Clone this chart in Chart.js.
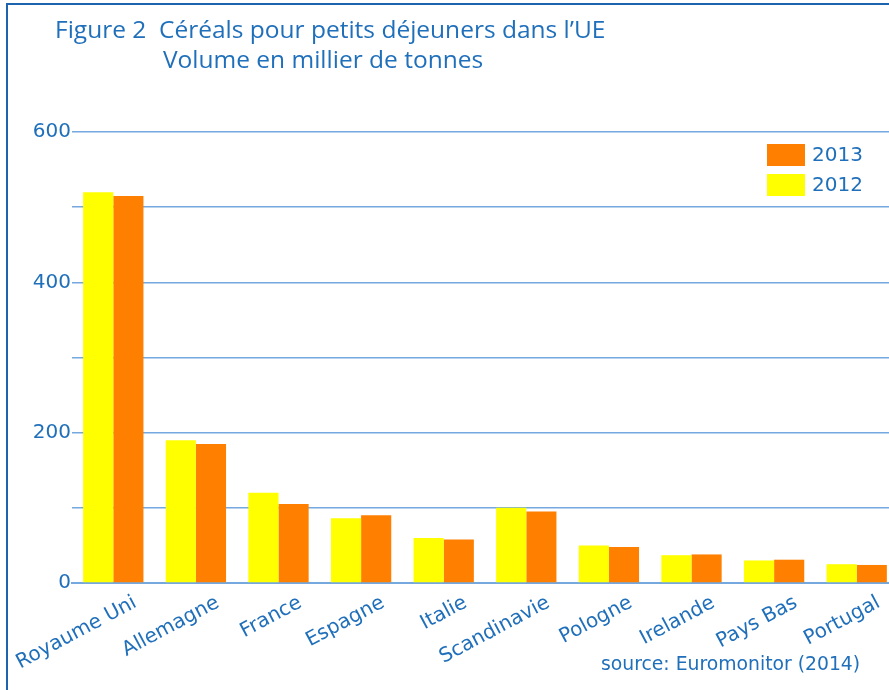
<!DOCTYPE html>
<html>
<head>
<meta charset="utf-8">
<script src="https://cdn.jsdelivr.net/npm/chart.js@4"></script>
<style>
  html, body { margin: 0; padding: 0; background: #fff; overflow: hidden; }
  #wrap { position: relative; width: 889px; height: 690px; overflow: hidden; }
  #frame { position: absolute; left: 6px; top: 3px; width: 900px; height: 700px;
           border-left: 2px solid #1e63ad; border-top: 2px solid #1e63ad; }
  #box { position: absolute; left: 0; top: 0; width: 900px; height: 690px; }
  .title { position: absolute; font-family: "Open Sans", sans-serif; font-size: 24.5px; color: #1f6fba; white-space: nowrap; }
  #source { position: absolute; left: 601px; top: 653px; font-family: "DejaVu Sans", sans-serif;
            font-size: 18.8px; color: #1f6fba; white-space: nowrap; }
</style>
</head>
<body>
<div id="wrap">
  <div id="box"><canvas id="cereal-chart" width="900" height="690"></canvas></div>
  <div id="frame"></div>
  <div class="title" style="left:55px; top:12px;">Figure 2&nbsp;&nbsp;Céréals pour petits déjeuners dans l’UE</div>
  <div class="title" style="left:163px; top:42px;">Volume en millier de tonnes</div>
  <div id="source">source: Euromonitor (2014)</div>
</div>
<script>
// pays (ordre du graphique)
const countries = ['Royaume Uni', 'Allemagne', 'France', 'Espagne', 'Italie',
  'Scandinavie', 'Pologne', 'Irelande', 'Pays Bas', 'Portugal'];
// volumes (milliers de tonnes)
const vol2012 = [520, 190, 120, 86, 60, 100, 50, 37, 30, 25];
const vol2013 = [515, 185, 105, 90, 58, 95, 48, 38, 31, 24];
const yTicks = [0, 200, 400, 600];

const BLUE = '#1f6fba';
const GRID = '#74a8de';

// légende dessinée dans la zone du graphique (2013 au-dessus de 2012)
const insideLegend = {
  id: 'insideLegend',
  afterDraw(chart) {
    const ctx = chart.ctx;
    const items = chart.data.datasets.slice().reverse();
    ctx.save();
    ctx.font = '20px "DejaVu Sans", sans-serif';
    ctx.textBaseline = 'middle';
    items.forEach((ds, i) => {
      const y = 144 + i * 30;
      ctx.fillStyle = ds.backgroundColor;
      ctx.fillRect(767, y, 38, 22);
      ctx.fillStyle = BLUE;
      ctx.fillText(ds.label, 812, y + 12);
    });
    ctx.restore();
  }
};

const ctx = document.getElementById('cereal-chart').getContext('2d');
new Chart(ctx, {
  type: 'bar',
  data: {
    labels: countries,
    datasets: [
      { label: '2012', data: vol2012, backgroundColor: '#ffff00' },
      { label: '2013', data: vol2013, backgroundColor: '#ff7f00' }
    ]
  },
  options: {
    responsive: false,
    animation: false,
    layout: { padding: { top: 132, right: 2, left: 0, bottom: 0 } },
    datasets: {
      bar: { categoryPercentage: 0.73, barPercentage: 1.0, borderWidth: 0 }
    },
    plugins: {
      legend: { display: false },
      tooltip: { enabled: false }
    },
    scales: {
      x: {
        grid: { display: false },
        border: { display: true, color: GRID, width: 2 },
        ticks: {
          color: BLUE,
          font: { family: '"DejaVu Sans", sans-serif', size: 20 },
          minRotation: 28,
          maxRotation: 28,
          autoSkip: false,
          labelOffset: 22,
          padding: 0
        },
        afterFit: (scale) => {
          scale.height = 107;
          scale.paddingLeft = 0;
          scale.paddingRight = 0;
        }
      },
      y: {
        min: 0,
        max: 600,
        border: { display: false },
        grid: { color: GRID, lineWidth: 1.5, drawTicks: false },
        ticks: {
          stepSize: 100,
          color: BLUE,
          padding: 1,
          font: { family: '"DejaVu Sans", sans-serif', size: 20 },
          callback: (v) => yTicks.includes(v) ? String(v) : ''
        },
        afterFit: (scale) => { scale.width = 72; }
      }
    }
  },
  plugins: [insideLegend]
});
</script>
</body>
</html>
